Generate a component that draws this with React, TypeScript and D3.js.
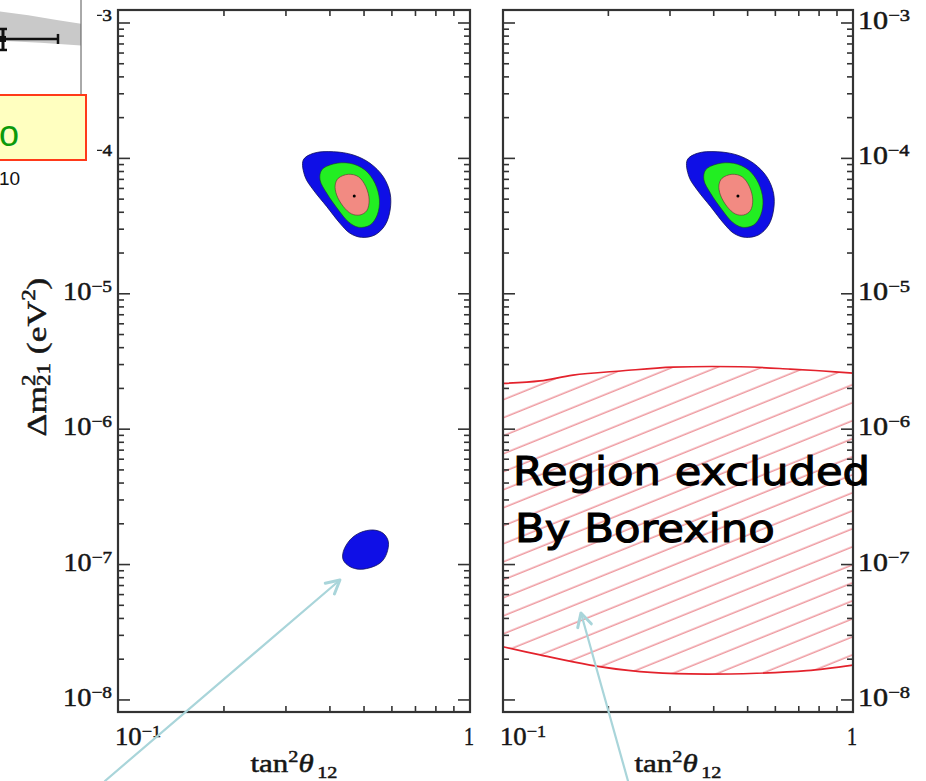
import React, { useLayoutEffect, useRef } from 'react';
import * as d3 from 'd3';

type Pt = [number, number];

// ---- axis values ----
const TAN_MINOR = [0.2, 0.3, 0.4, 0.5, 0.6, 0.7, 0.8, 0.9];
const DM_EXPONENTS = [-8, -7, -6, -5, -4, -3];
const MINOR_DECADES = [-8, -7, -6, -5, -4];
const MANTISSAS = [2, 3, 4, 5, 6, 7, 8, 9];
const TAN_DOMAIN: Pt = [0.1, 1];
const DM_DOMAIN: Pt = [10 ** -8.089, 10 ** -2.904];

// ---- allowed regions (tan^2 theta12, dm^2_21 in eV^2) ----
const LMA_3SIGMA: Pt[] = [
  [0.336, 9.73e-5], [0.359, 1.09e-4], [0.409, 1.12e-4], [0.466, 1.06e-4],
  [0.52, 9.2e-5], [0.567, 7.32e-5], [0.593, 5.52e-5], [0.593, 4.16e-5],
  [0.574, 3.22e-5], [0.537, 2.72e-5], [0.492, 2.61e-5], [0.456, 2.8e-5],
  [0.427, 3.32e-5], [0.392, 4.4e-5], [0.359, 5.84e-5], [0.34, 7.32e-5],
];
const LMA_2SIGMA: Pt[] = [
  [0.379, 8.21e-5], [0.409, 9.09e-5], [0.456, 9.2e-5], [0.503, 8.21e-5],
  [0.537, 6.55e-5], [0.553, 4.93e-5], [0.545, 3.82e-5], [0.52, 3.22e-5],
  [0.482, 3.1e-5], [0.451, 3.41e-5], [0.423, 4.16e-5], [0.392, 5.52e-5],
  [0.375, 6.93e-5],
];
const LMA_1SIGMA: Pt[] = [
  [0.4225, 7.13e-5], [0.451, 7.63e-5], [0.482, 7.32e-5], [0.506, 6.18e-5],
  [0.517, 4.93e-5], [0.509, 4.11e-5], [0.487, 3.82e-5], [0.461, 3.89e-5],
  [0.437, 4.4e-5], [0.418, 5.37e-5], [0.414, 6.36e-5],
];
const LOW_3SIGMA: Pt[] = [
  [0.4365, 1.245e-7], [0.456, 1.52e-7], [0.487, 1.72e-7], [0.531, 1.8e-7],
  [0.567, 1.7e-7], [0.586, 1.48e-7], [0.58, 1.21e-7], [0.561, 1.05e-7],
  [0.531, 9.65e-8], [0.487, 9.23e-8], [0.456, 9.65e-8], [0.4365, 1.08e-7],
];
const BEST_FIT: Pt = [0.469, 5.28e-5];

// ---- Borexino day-night exclusion boundaries ----
const BX_UPPER: Pt[] = [
  [0.1, 2.18e-6], [0.1276, 2.27e-6], [0.1585, 2.51e-6], [0.2203, 2.7e-6],
  [0.306, 2.87e-6], [0.4755, 2.89e-6], [0.661, 2.78e-6], [0.821, 2.69e-6], [1, 2.59e-6],
];
const BX_LOWER: Pt[] = [
  [0.1, 2.47e-8], [0.1276, 2.15e-8], [0.1773, 1.81e-8], [0.2462, 1.62e-8],
  [0.342, 1.556e-8], [0.5307, 1.575e-8], [0.7375, 1.646e-8], [1, 1.81e-8],
];

// ---- annotation arrows: [tail, tip] ----
const ARROW_LOW: Pt[] = [[0.0918, 2.52e-9], [0.427, 7.69e-8]];
const ARROW_BX: Pt[] = [[0.2276, 2.52e-9], [0.167, 4.39e-8]];

// ---- overlapping inset (normalized units) ----
const INSET_BAND_TOP: Pt[] = [[0, 0.12], [0.35, 0.16], [0.7, 0.21], [1, 0.25]];
const INSET_BAND_BOT: Pt[] = [[0, 0.43], [0.5, 0.45], [1, 0.48]];
const INSET_POINT: Pt = [0.037, 0.41];
const INSET_XERR: Pt = [0, 0.716];
const INSET_YERR: Pt = [0.305, 0.526];

const W = 926;
const H = 781;
const Y_TOP = 10;
const Y_BOT = 712;
const SERIF = "'Liberation Serif', 'Times New Roman', serif";
const AXIS = '#333';
const INK = '#161616';

const yScale = d3.scaleLog().domain(DM_DOMAIN).range([Y_BOT, Y_TOP]);
const xLeft = d3.scaleLog().domain(TAN_DOMAIN).range([118, 470]);
const xRight = d3.scaleLog().domain(TAN_DOMAIN).range([503, 853]);

const insetX = d3.scaleLinear().domain([0, 1]).range([0, 81]);
const insetY = d3.scaleLinear().domain([0, 1]).range([0, 95]);

function Pow10({ e, base, w, anchor }: { e: number; base: string; w: number; anchor: string }) {
  return (
    <text data-fitw={w} data-base={base} transform={base} textAnchor={anchor}
      fontFamily={SERIF} fontSize={25} fill={INK} stroke={INK} strokeWidth={0.5}>
      10<tspan dy={-8} fontSize={17}>{'\u2212' + Math.abs(e)}</tspan>
    </text>
  );
}

function Arrow({ x, pts }: { x: d3.ScaleLogarithmic<number, number>; pts: Pt[] }) {
  const [t0, t1] = pts;
  const ax = x(t0[0]), ay = yScale(t0[1]);
  const bx = x(t1[0]), by = yScale(t1[1]);
  const a = Math.atan2(by - ay, bx - ax);
  const L = 15, s = (28 * Math.PI) / 180;
  const p1 = [bx - L * Math.cos(a - s), by - L * Math.sin(a - s)];
  const p2 = [bx - L * Math.cos(a + s), by - L * Math.sin(a + s)];
  return (
    <g stroke="#a9d5da" strokeWidth={2.2} fill="none" strokeLinecap="round" strokeLinejoin="round">
      <line x1={ax} y1={ay} x2={bx} y2={by} />
      <path d={`M${p1[0]},${p1[1]}L${bx},${by}L${p2[0]},${p2[1]}`} strokeWidth={3} />
    </g>
  );
}

function Panel({ x, side, showLow, showBx }: {
  x: d3.ScaleLogarithmic<number, number>; side: 'left' | 'right'; showLow: boolean; showBx: boolean;
}) {
  const [x0, x1] = x.range();
  const blob = d3.line<Pt>().x(d => x(d[0])).y(d => yScale(d[1])).curve(d3.curveCatmullRomClosed.alpha(0.5));
  const edge = d3.line<Pt>().x(d => x(d[0])).y(d => yScale(d[1])).curve(d3.curveCatmullRom.alpha(0.5));
  const up = edge(BX_UPPER) || '';
  const lo = edge([...BX_LOWER].reverse()) || '';
  const bxArea = up + 'L' + lo.slice(1) + 'Z';
  const minor: number[] = [];
  MINOR_DECADES.forEach(e => MANTISSAS.forEach(m => minor.push(m * 10 ** e)));
  const cx = (x0 + x1) / 2;
  return (
    <g>
      <rect x={x0} y={Y_TOP} width={x1 - x0} height={Y_BOT - Y_TOP} fill="#fff" />
      {showBx && (
        <g>
          <path d={bxArea} fill="url(#bxHatch)" />
          <path d={up} fill="none" stroke="#e3222c" strokeWidth={1.7} />
          <path d={edge(BX_LOWER) || ''} fill="none" stroke="#e3222c" strokeWidth={1.7} />
        </g>
      )}
      <path d={blob(LMA_3SIGMA) || ''} fill="#0f0fe6" stroke="#10105a" strokeWidth={0.8} />
      <path d={blob(LMA_2SIGMA) || ''} fill="#22ee22" stroke="#1a4a1a" strokeWidth={0.6} />
      <path d={blob(LMA_1SIGMA) || ''} fill="#f28a82" stroke="#5a3030" strokeWidth={0.6} />
      <circle cx={x(BEST_FIT[0])} cy={yScale(BEST_FIT[1])} r={1.5} fill="#000" />
      {showLow && <path d={blob(LOW_3SIGMA) || ''} fill="#0f0fe6" stroke="#10105a" strokeWidth={0.8} />}

      <g stroke={AXIS} strokeWidth={1.6}>
        {DM_EXPONENTS.map(e => {
          const y = yScale(10 ** e);
          return (
            <g key={'M' + e}>
              <line x1={x0} x2={x0 + 12} y1={y} y2={y} />
              <line x1={x1 - 12} x2={x1} y1={y} y2={y} />
            </g>
          );
        })}
        {minor.map((v, i) => {
          const y = yScale(v);
          return (
            <g key={'m' + i}>
              <line x1={x0} x2={x0 + 6} y1={y} y2={y} />
              <line x1={x1 - 6} x2={x1} y1={y} y2={y} />
            </g>
          );
        })}
        {TAN_MINOR.map(t => (
          <g key={'t' + t}>
            <line x1={x(t)} x2={x(t)} y1={Y_BOT} y2={Y_BOT - 6} />
            <line x1={x(t)} x2={x(t)} y1={Y_TOP} y2={Y_TOP + 6} />
          </g>
        ))}
      </g>
      <rect x={x0} y={Y_TOP} width={x1 - x0} height={Y_BOT - Y_TOP} fill="none" stroke={AXIS} strokeWidth={2.2} />

      {DM_EXPONENTS.map(e => {
        const y = yScale(10 ** e) + 6;
        return side === 'left'
          ? <Pow10 key={'l' + e} e={e} base={`translate(112,${y})`} w={49} anchor="end" />
          : <Pow10 key={'r' + e} e={e} base={`translate(858,${y})`} w={52} anchor="start" />;
      })}
      <Pow10 e={-1} base={`translate(${x(0.1) - 3},745)`} w={46} anchor="start" />
      <text data-fitw={10} data-base={`translate(${x(1) - 1},745)`} transform={`translate(${x(1) - 1},745)`}
        textAnchor="middle" fontFamily={SERIF} fontSize={25} fill={INK} stroke={INK} strokeWidth={0.5}>1</text>
      <text data-fitw={87} data-base={`translate(${cx},772)`} transform={`translate(${cx},772)`}
        textAnchor="middle" fontFamily={SERIF} fontSize={26} fill={INK} stroke={INK} strokeWidth={0.5}>
        tan<tspan dy={-10} fontSize={17}>2</tspan>
        <tspan dy={10} fontStyle="italic">θ</tspan>
        <tspan dx={3} dy={6} fontSize={17}>12</tspan>
      </text>
    </g>
  );
}

export default function App() {
  const ref = useRef<SVGSVGElement>(null);

  useLayoutEffect(() => {
    if (!ref.current) return;
    d3.select(ref.current).selectAll<SVGTextElement, unknown>('text[data-fitw]').each(function () {
      const w = +(this.getAttribute('data-fitw') || 0);
      const base = this.getAttribute('data-base') || '';
      const bw = this.getBBox().width;
      if (bw > 0) this.setAttribute('transform', `${base} scale(${w / bw},1)`);
    });
  }, []);

  const bandTop = INSET_BAND_TOP.map(d => [insetX(d[0]), insetY(d[1])] as Pt);
  const bandBot = INSET_BAND_BOT.map(d => [insetX(d[0]), insetY(d[1])] as Pt).reverse();
  const band = d3.line().curve(d3.curveLinear)([...bandTop, ...bandBot]) + 'Z';
  const px = insetX(INSET_POINT[0]);
  const py = insetY(INSET_POINT[1]);

  return (
    <svg ref={ref} width={W} height={H} viewBox={`0 0 ${W} ${H}`}
      style={{ position: 'absolute', left: 0, top: 0, background: '#fff' }}>
      <defs>
        <pattern id="bxHatch" patternUnits="userSpaceOnUse" width={40} height={16.7}
          patternTransform="rotate(-22)">
          <line x1={0} x2={40} y1={8} y2={8} stroke="#e0444f" strokeWidth={0.85} />
        </pattern>
      </defs>
      <rect width={W} height={H} fill="#fff" />

      <Panel x={xLeft} side="left" showLow={true} showBx={false} />
      <Panel x={xRight} side="right" showLow={false} showBx={true} />

      <text data-fitw={159} data-base="translate(46,357) rotate(-90)" transform="translate(46,357) rotate(-90)"
        textAnchor="middle" fontFamily={SERIF} fontSize={28} fill={INK} stroke={INK} strokeWidth={0.5}>
        Δm<tspan dy={-11} fontSize={18}>2</tspan>
        <tspan dx={-9} dy={15} fontSize={18}>21</tspan>
        <tspan dy={-4}> (eV</tspan>
        <tspan dy={-11} fontSize={18}>2</tspan>
        <tspan dy={11}>)</tspan>
      </text>

      <g fontFamily="'DejaVu Sans', sans-serif" fontSize={39} fill="#000" stroke="#000" strokeWidth={1.1}>
        <text data-fitw={357} data-base="translate(513,485)" transform="translate(513,485)">Region excluded</text>
        <text data-fitw={260} data-base="translate(515,542)" transform="translate(515,542)">By Borexino</text>
      </g>

      <Arrow x={xLeft} pts={ARROW_LOW} />
      <Arrow x={xRight} pts={ARROW_BX} />

      {/* overlapping inset panel in the upper-left corner */}
      <g>
        <rect x={0} y={0} width={97} height={168} fill="#fff" />
        <path d={band} fill="#c9c9c9" />
        <line x1={insetX(1)} x2={insetX(1)} y1={0} y2={95} stroke="#555" strokeWidth={1} />
        <g stroke="#111" strokeWidth={2.5}>
          <line x1={insetX(INSET_XERR[0])} x2={insetX(INSET_XERR[1])} y1={py} y2={py} />
          <line x1={insetX(INSET_XERR[1])} x2={insetX(INSET_XERR[1])} y1={py - 5} y2={py + 5} />
          <line x1={px} x2={px} y1={insetY(INSET_YERR[0])} y2={insetY(INSET_YERR[1])} strokeWidth={3} />
          <line x1={px - 4} x2={px + 4} y1={insetY(INSET_YERR[0])} y2={insetY(INSET_YERR[0])} />
          <line x1={px - 4} x2={px + 4} y1={insetY(INSET_YERR[1])} y2={insetY(INSET_YERR[1])} />
        </g>
        <rect x={px - 3} y={py - 3} width={6} height={6} fill="#111" />
        <rect x={-3} y={95} width={89} height={65} fill="#ffffc0" stroke="#ff3a1a" strokeWidth={2} />
        <text x={-1} y={146} fontFamily="'Liberation Sans', Arial, sans-serif" fontSize={36} fill="#0b9a0b">o</text>
        <text x={-1} y={185} fontFamily="'Liberation Sans', Arial, sans-serif" fontSize={19} fill="#111">10</text>
      </g>
    </svg>
  );
}
